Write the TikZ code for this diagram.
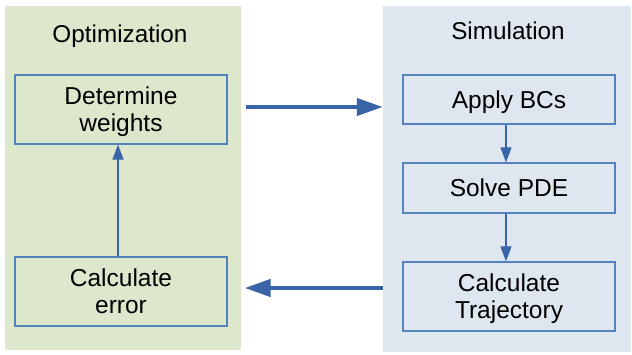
\documentclass[tikz,border=0pt]{standalone}
\usepackage{fontspec}
\setmainfont{Liberation Sans}
\usetikzlibrary{arrows.meta}
\definecolor{greenbg}{HTML}{DDE7CB}
\definecolor{bluebg}{HTML}{DEE6EF}
\definecolor{edgeblue}{HTML}{5283BF}
\definecolor{arrblue}{HTML}{3765A8}
\tikzset{
  panel/.style={draw=none, minimum width=#1, inner sep=0pt},
  box/.style={draw=edgeblue, line width=1.2pt, minimum width=212pt, inner sep=0pt, align=center,
    text depth=0pt, font=\fontsize{24.5}{27}\selectfont},
  title/.style={anchor=base, inner sep=0pt, font=\fontsize{24.3}{27}\selectfont},
  smallarrow/.style={draw=arrblue, line width=1.1pt, -{Triangle[length=15pt,width=11pt]}},
  bigarrow/.style={draw=arrblue, line width=4.3pt, -{Triangle[length=26pt,width=17pt]}}
}
\begin{document}
\begin{tikzpicture}[x=1pt,y=-1pt]
\useasboundingbox (0,0) rectangle (632,354);
\node[panel=236pt, minimum height=344pt, fill=greenbg] (opt) at (123,178) {};
\node[panel=248pt, minimum height=346pt, fill=bluebg] (sim) at (507,179) {};
\node[title] (optt) at (120,42) {Optimization};
\node[title] (simt) at (508,39) {Simulation};
\node[box, minimum height=69pt] (weights) at (121,109.5) {Determine\\weights};
\node[box, minimum height=69pt] (error) at (121,291.5) {Calculate\\error};
\node[box, minimum height=49pt] (bcs) at (509,99.5) {Apply BCs};
\node[box, minimum height=50pt] (pde) at (509,188) {Solve PDE};
\node[box, minimum height=69pt] (traj) at (509,296.5) {Calculate\\Trajectory};
\draw[smallarrow] ([xshift=-3pt]error.north) -- ([xshift=-3pt]weights.south);
\draw[smallarrow] ([xshift=-3pt]bcs.south) -- ([xshift=-3pt]pde.north);
\draw[smallarrow] ([xshift=-3pt]pde.south) -- ([xshift=-3pt]traj.north);
\draw[bigarrow, shorten <=18pt] ([yshift=2.5pt]weights.east) -- ([yshift=2.5pt]weights.east -| sim.west);
\draw[bigarrow, shorten >=17pt] ([yshift=3.5pt]error.east -| sim.west) -- ([yshift=3.5pt]error.east);
\end{tikzpicture}
\end{document}
